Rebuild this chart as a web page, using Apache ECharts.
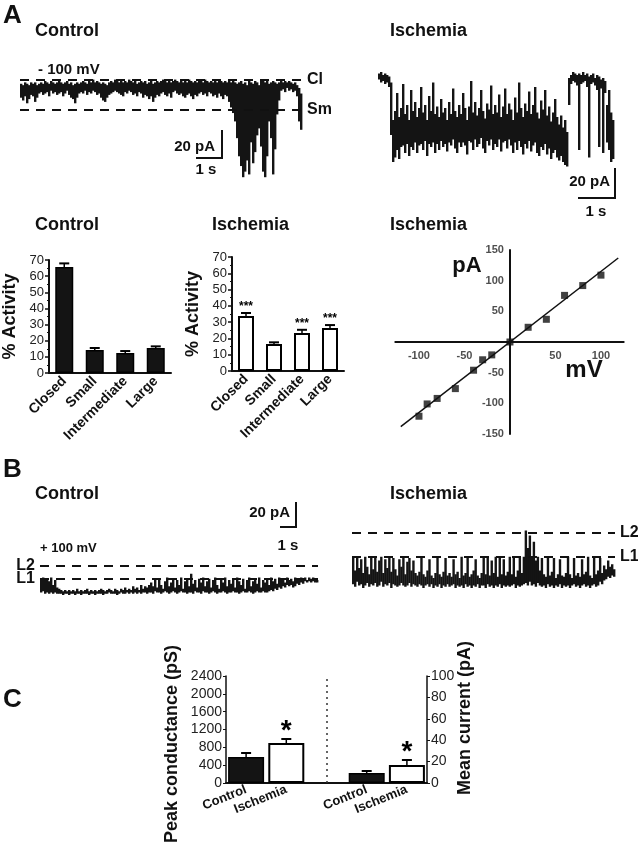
<!DOCTYPE html>
<html>
<head>
<meta charset="utf-8">
<script src="https://cdn.jsdelivr.net/npm/echarts@6/dist/echarts.min.js"></script>
<style>
  html, body { margin: 0; padding: 0; background: #fff; }
  #chart { width: 638px; height: 853px; }
</style>
</head>
<body>
<div id="chart"></div>
<script>
// ---- single channel traces as [top, bottom] of the noise per time bin (pA, 0 = closed) ----
var traceCtrlA = [
  [-3,-13],[-4,-15],[-2,-12],[-3,-17],[-4,-14],[-2,-11],[-3,-12],[-2,-16],[-4,-13],[-3,-10],
  [-2,-9],[-3,-11],[-1,-10],[-2,-9],[-3,-12],[-1,-8],[-2,-10],[-3,-9],[-2,-11],[-1,-10],
  [-2,-9],[-3,-12],[-2,-10],[-1,-8],[-3,-11],[-2,-13],[-4,-14],[-3,-17],[-2,-13],[-3,-10],
  [-2,-9],[-1,-10],[-2,-8],[-3,-11],[-1,-9],[-2,-10],[0,-8],[-2,-9],[-1,-11],[-2,-10],
  [-3,-13],[-2,-15],[-3,-16],[-4,-13],[-2,-11],[-1,-10],[-2,-9],[0,-8],[-1,-9],[-2,-10],
  [-1,-11],[-2,-12],[-1,-9],[-2,-10],[0,-8],[-1,-9],[-2,-11],[-1,-10],[-3,-12],[-2,-9],
  [-1,-10],[-2,-13],[-1,-11],[-3,-12],[-2,-14],[-1,-12],[-3,-16],[-2,-13],[-1,-11],[-2,-12],
  [-1,-10],[0,-9],[-1,-11],[-2,-12],[-1,-10],[-2,-13],[-1,-9],[0,-8],[-1,-10],[-2,-11],
  [-1,-10],[-2,-12],[-1,-13],[-2,-11],[0,-10],[-1,-12],[-2,-14],[-1,-11],[-2,-12],[-1,-10],
  [-1,-9],[-2,-11],[0,-10],[-1,-12],[-2,-9],[-1,-10],[-2,-12],[-1,-11],[-2,-13],[-1,-10],
  [-1,-12],[-2,-14],[-1,-11],[-2,-12],[-1,-16],[-2,-20],[-1,-24],[-2,-30],[-3,-42],[-2,-55],
  [-1,-62],[-3,-70],[-2,-66],[-4,-58],[-1,-68],[-2,-45],[-3,-60],[-1,-52],[-2,-40],[-4,-35],
  [-1,-48],[0,-66],[-2,-70],[-1,-55],[-3,-30],[-2,-42],[-1,-68],[-2,-50],[-3,-25],[-2,-15],
  [-1,-8],[-2,-7],[-1,-9],[-2,-6],[-1,-8],[-2,-7],[-3,-9],[-2,-8],[-4,-12],[-6,-30],[-10,-36]
];
var traceIschA = [
  [1,-3],[2,-5],[0,-4],[1,-6],[0,-5],[-1,-8],
  [-5,-40],[-30,-58],
  [-24,-55],[-12,-50],[-28,-56],[-22,-48],[-6,-47],[-26,-52],[-20,-46],[-30,-54],[-10,-48],[-24,-50],
  [-18,-45],[-28,-52],[-22,-47],[-8,-46],[-25,-50],[-20,-44],[-30,-54],[-14,-46],[-24,-48],[-5,-45],
  [-26,-52],[-21,-46],[-28,-50],[-16,-44],[-25,-48],[-22,-46],[-30,-51],[-18,-45],[-26,-47],[-9,-43],
  [-24,-49],[-28,-52],[-20,-45],[-26,-48],[-12,-45],[-22,-47],[-30,-53],[-21,-44],[-4,-45],[-25,-50],
  [-18,-43],[-27,-48],[-22,-46],[-10,-42],[-24,-49],[-29,-52],[-19,-44],[-23,-47],[-7,-43],[-26,-50],
  [-20,-46],[-25,-48],[-13,-43],[-28,-51],[-21,-45],[-9,-44],[-26,-49],[-19,-43],[-23,-47],[-30,-52],
  [-15,-45],[-25,-50],[-5,-44],[-22,-48],[-28,-53],[-19,-46],[-24,-49],[-11,-44],[-26,-51],[-20,-47],
  [-8,-45],[-25,-52],[-29,-54],[-17,-48],[-23,-50],[-10,-46],[-27,-53],[-21,-49],[-31,-56],[-25,-52],
  [-16,-50],[-28,-55],[-33,-57],[-27,-54],[-35,-58],[-30,-60],[-38,-61],
  [-2,-20],[0,-6],[2,-4],[1,-5],[0,-7],[1,-50],[0,-6],[2,-5],[0,-4],[1,-8],[-1,-55],[0,-6],
  [1,-5],[-2,-7],[0,-10],[-1,-48],[-3,-9],[-2,-52],[-4,-12],[-20,-45],[-10,-50],[-25,-58],[-30,-56]
];
var traceCtrlB = [
  [11,0],[12,1],[10,-1],[11,0],[9,-1],[12,0],[6,-1],[10,0],[4,-1],[3,-1],
  [2,-1],[1,-2],[2,-1],[1,-1],[2,-2],[1,-1],[2,-1],[1,-2],[3,-1],[1,-1],
  [2,-2],[1,-1],[2,-1],[3,-1],[1,-2],[2,-1],[1,-1],[2,-2],[1,-1],[2,-1],
  [3,-1],[2,-2],[1,-1],[2,-1],[3,0],[2,-1],[1,-1],[3,-1],[2,-2],[1,-1],
  [3,0],[2,-1],[4,-1],[2,0],[3,-1],[2,0],[5,-1],[3,0],[4,-1],[2,0],
  [6,-1],[3,0],[5,0],[4,-1],[6,0],
  [8,0],[5,-1],[10,1],[4,0],[11,0],[6,-1],[3,0],[9,1],[12,0],[5,-1],
  [8,0],[11,1],[4,0],[10,-1],[6,0],[12,1],[3,0],[9,0],[11,-1],[5,0],
  [15,0],[7,-1],[10,1],[4,0],[11,0],[8,-1],[12,1],[5,0],[9,0],[11,-1],
  [4,0],[10,1],[12,0],[6,-1],[3,0],[11,0],[8,1],[12,0],[5,-1],[10,0],
  [7,0],[11,1],[4,0],[12,0],[9,-1],[6,0],[11,1],[3,0],[10,0],[12,1],
  [5,0],[9,-1],[11,0],[7,1],[12,0],[4,0],[10,1],[8,0],[11,0],[6,1],
  [12,2],[9,1],[11,3],[7,2],[12,4],[10,3],[11,5],[8,4],[12,6],[10,5],
  [11,6],[9,4],[12,5],[11,7],[10,6],[12,8],[11,7],[12,9],[10,8],[12,9],
  [11,8],[12,9],[11,8],[10,8]
];
var traceIschB = [
  [22,1],[12,-1],[23,3],[14,0],[21,1],[10,-2],[23,0],[15,2],[9,-1],[22,1],[13,0],[23,2],[11,-1],[20,0],[23,3],[10,-1],
  [21,1],[14,0],[23,2],[11,-2],[22,1],[13,0],[8,-1],[21,0],[15,2],[23,0],[9,-1],[19,0],[22,2],[12,-1],[20,1],[10,0],
  [8,-1],[11,1],[22,0],[9,-2],[7,0],[12,1],[21,-1],[8,1],[6,-2],[10,0],[23,-1],[9,1],[7,-2],[11,0],[22,-1],[8,1],[10,-1],
  [7,0],[21,1],[9,-2],[11,0],[6,-1],[23,0],[8,-2],[10,1],[22,-1],[7,0],[9,-2],[12,0],[21,-1],[8,1],[6,-2],[10,0],
  [22,0],[9,-2],[23,1],[8,-1],[20,0],[10,-2],[23,0],[7,-1],[22,1],[9,-2],[21,0],[8,-1],[11,0],[23,-1],[9,0],[22,1],
  [7,-2],[12,0],[23,-1],[10,0],
  [23,1],[44,2],[30,0],[40,3],[22,0],[35,1],[20,-1],[23,2],[12,0],[22,-1],
  [9,0],[7,-2],[23,1],[8,-1],[11,0],[22,-2],[6,0],[9,-1],[21,1],[8,-2],[7,0],[10,-1],[23,0],[9,-2],[6,0],[22,1],[8,-1],[10,0],
  [7,-2],[21,0],[9,1],[11,-1],[23,0],[8,-2],[6,0],[22,1],[9,-1],[12,0],[22,3],[10,1],[16,4],[13,5],[20,7],[15,6],[17,8],[13,7]
];
var levelsCtrlA = { Cl: 0, Sm: -21.4 };
var levelsCtrlB = { L2: 21.6, L1: 11.2 };
var levelsIschB = { L2: 42.4, L1: 23.2 };

// ---- % activity bars ----
var activityCats = ['Closed', 'Small', 'Intermediate', 'Large'];
var activityCtrl = [65.7, 14.2, 12.4, 15.5];
var activityCtrlErr = [2.2, 1.3, 1.2, 1.0];
var activityIsch = [33.8, 16.6, 23.3, 26.4];
var activityIschErr = [1.8, 1.0, 2.0, 1.8];
var activityIschSig = ['***', '', '***', '***'];

// ---- I-V relation (ischemia) ----
var ivVoltage = [-100, -91, -80, -60, -40, -30, -20, 0, 20, 40, 60, 80, 100];
var ivCurrent = [-121, -101, -92, -76, -46, -29, -21, 0, 24, 37, 76, 92, 109];
var ivFitVoltage = [-120, 119];
var ivFitCurrent = [-138, 137];
var ivVoltageTicks = [-100, -50, 50, 100];
var ivCurrentTicks = [150, 100, 50, -50, -100, -150];

// ---- panel C ----
var groupCats = ['Control', 'Ischemia'];
var peakConductance = [583, 897];
var peakConductanceErr = [90, 90];
var meanCurrent = [9.3, 16.8];
var meanCurrentErr = [1.9, 4.7];
var groupSig = ['', '*'];

var FONT = '"Liberation Sans", Arial, sans-serif';
var INK = '#111';

function idx(arr) { return arr.map(function (v, i) { return i; }); }

// noisy trace: one filled column per time bin, from top to bottom of the noise
function envRender(params, api) {
  var i = api.value(0);
  var top = api.coord([i, api.value(1)]);
  var bot = api.coord([i, api.value(2)]);
  var w = api.size([1, 0])[0];
  return {
    type: 'rect',
    shape: { x: top[0] - w / 2, y: top[1], width: w + 0.4, height: Math.max(bot[1] - top[1], 1.2) },
    style: { fill: '#141414' }
  };
}

function traceSeries(data, gi, levels, labelPos) {
  var s = {
    type: 'custom', xAxisIndex: gi, yAxisIndex: gi, renderItem: envRender,
    data: data.map(function (p, i) { return [i, p[0], p[1]]; }),
    encode: { x: 0, y: [1, 2] }
  };
  if (levels) {
    s.markLine = {
      silent: true, symbol: 'none', animation: false,
      lineStyle: { color: INK, width: 2, type: [9, 7] },
      label: { show: true, position: labelPos, formatter: '{b}', color: INK, fontSize: 16, fontWeight: 'bold', fontFamily: FONT, distance: 5 },
      data: Object.keys(levels).map(function (k) { return { name: k, yAxis: levels[k] }; })
    };
  }
  return s;
}

function errRender(sig, starSize, starDy) {
  return function (params, api) {
    var x = api.value(0), lo = api.value(1), hi = api.value(2);
    var p0 = api.coord([x, lo]), p1 = api.coord([x, hi]);
    var kids = [
      { type: 'line', shape: { x1: p0[0], y1: p0[1], x2: p1[0], y2: p1[1] }, style: { stroke: '#000', lineWidth: 1.5 } },
      { type: 'line', shape: { x1: p1[0] - 5, y1: p1[1], x2: p1[0] + 5, y2: p1[1] }, style: { stroke: '#000', lineWidth: 2 } }
    ];
    var s = sig ? sig[params.dataIndex] : '';
    if (s) {
      kids.push({ type: 'text', style: { text: s, x: p1[0], y: p1[1] - starDy, align: 'center', verticalAlign: 'middle',
        font: 'bold ' + starSize + 'px ' + FONT, fill: '#000' } });
    }
    return { type: 'group', children: kids };
  };
}

function errData(vals, errs, offset) {
  return vals.map(function (v, i) { return [i + (offset || 0), v, v + errs[i]]; });
}

function txt(s, x, y, size, align, rot, weight) {
  return {
    type: 'text', x: x, y: y, rotation: rot || 0, silent: true,
    style: { text: s, x: 0, y: 0, fill: INK, font: (weight || 'bold') + ' ' + size + 'px ' + FONT,
      align: align || 'left', verticalAlign: 'middle', textAlign: align || 'left', textVerticalAlign: 'middle' }
  };
}
function bar(points) {
  return { type: 'polyline', silent: true, shape: { points: points }, style: { stroke: INK, lineWidth: 2, fill: null } };
}

var barY = function (gi) {
  return {
    gridIndex: gi, type: 'value', min: 0, max: 70, interval: 10,
    name: '% Activity', nameLocation: 'middle', nameGap: 30,
    nameTextStyle: { fontSize: 18, fontWeight: 'bold', color: INK, fontFamily: FONT },
    axisLine: { show: true, lineStyle: { color: INK, width: 2 } },
    axisTick: { show: true, length: 4, lineStyle: { color: INK, width: 1.5 } },
    minorTick: { show: true, splitNumber: 2, length: 2, lineStyle: { color: INK } },
    splitLine: { show: false },
    axisLabel: { fontSize: 13, color: '#222', margin: 5 }
  };
};
var barX = function (gi) {
  return {
    gridIndex: gi, type: 'category', data: activityCats,
    axisLine: { lineStyle: { color: INK, width: 2 } }, axisTick: { show: false },
    axisLabel: { rotate: 45, fontSize: 14, fontWeight: 'bold', color: INK, margin: 6, interval: 0 }
  };
};
var traceX = function (gi, data) {
  return { gridIndex: gi, type: 'category', data: idx(data), boundaryGap: true, show: false };
};
var plain = function (v) { return String(v); };

var chart = echarts.init(document.getElementById('chart'), null, { renderer: 'canvas' });

var cCats = [groupCats[0], groupCats[1], '', groupCats[0], groupCats[1]];
var tickLabel = { show: true, color: '#222', fontSize: 11, fontWeight: 'bold', fontFamily: FONT };

var option = {
  animation: false,
  backgroundColor: '#fff',
  textStyle: { fontFamily: FONT },
  grid: [
    { left: 20, top: 74, width: 282, height: 106 },          // 0 trace A control
    { left: 378, top: 72, width: 236, height: 96 },          // 1 trace A ischemia
    { left: 45, top: 260, width: 126, height: 113 },         // 2 bars control
    { left: 232, top: 257, width: 112, height: 114 },        // 3 bars ischemia
    { left: 395.3, top: 250, width: 228.4, height: 184 },    // 4 I-V
    { left: 40, top: 560, width: 278, height: 40 },          // 5 trace B control
    { left: 352, top: 528, width: 263, height: 65 },         // 6 trace B ischemia
    { left: 226, top: 676, width: 201, height: 107 }         // 7 panel C
  ],
  xAxis: [
    traceX(0, traceCtrlA),
    traceX(1, traceIschA),
    barX(2),
    barX(3),
    {
      gridIndex: 4, type: 'value', min: -126, max: 125,
      axisLine: { onZero: true, lineStyle: { color: INK, width: 2 } },
      axisTick: { show: false }, axisLabel: { show: false }, splitLine: { show: false }
    },
    traceX(5, traceCtrlB),
    traceX(6, traceIschB),
    {
      gridIndex: 7, type: 'category', data: cCats,
      axisLine: { lineStyle: { color: INK, width: 2 } }, axisTick: { show: false },
      axisLabel: { rotate: 22, fontSize: 13, fontWeight: 'bold', color: INK, margin: 6, interval: 0 }
    }
  ],
  yAxis: [
    { gridIndex: 0, type: 'value', min: -72, max: 4, show: false },
    { gridIndex: 1, type: 'value', min: -62, max: 2, show: false },
    barY(2),
    barY(3),
    {
      gridIndex: 4, type: 'value', min: -150, max: 150, interval: 50,
      axisLine: { onZero: true, lineStyle: { color: INK, width: 2 } },
      axisTick: { show: false }, axisLabel: { show: false }, splitLine: { show: false }
    },
    { gridIndex: 5, type: 'value', min: -6, max: 26, show: false },
    { gridIndex: 6, type: 'value', min: -6, max: 46, show: false },
    {
      gridIndex: 7, type: 'value', min: 0, max: 2400, interval: 400, position: 'left',
      axisLine: { show: true, lineStyle: { color: INK, width: 1.5 } },
      axisTick: { show: true, length: 3, lineStyle: { color: INK } },
      axisLabel: { fontSize: 14, color: '#222', margin: 4, formatter: plain }, splitLine: { show: false }
    },
    {
      gridIndex: 7, type: 'value', min: 0, max: 100, interval: 20, position: 'right',
      axisLine: { show: true, lineStyle: { color: INK, width: 1.5 } },
      axisTick: { show: true, length: 3, lineStyle: { color: INK } },
      axisLabel: { fontSize: 14, color: '#222', margin: 4, formatter: plain }, splitLine: { show: false }
    }
  ],
  series: [
    traceSeries(traceCtrlA, 0, levelsCtrlA, 'end'),
    traceSeries(traceIschA, 1, null),
    traceSeries(traceCtrlB, 5, levelsCtrlB, 'start'),
    traceSeries(traceIschB, 6, levelsIschB, 'end'),

    { type: 'bar', xAxisIndex: 2, yAxisIndex: 2, data: activityCtrl, barWidth: 18,
      itemStyle: { color: '#141414', borderColor: '#000', borderWidth: 1.5 } },
    { type: 'custom', xAxisIndex: 2, yAxisIndex: 2, renderItem: errRender(null, 12, 4),
      data: errData(activityCtrl, activityCtrlErr), encode: { x: 0, y: [1, 2] }, z: 3 },
    { type: 'bar', xAxisIndex: 3, yAxisIndex: 3, data: activityIsch, barWidth: 16,
      itemStyle: { color: '#fff', borderColor: '#000', borderWidth: 2 } },
    { type: 'custom', xAxisIndex: 3, yAxisIndex: 3, renderItem: errRender(activityIschSig, 12, 6),
      data: errData(activityIsch, activityIschErr), encode: { x: 0, y: [1, 2] }, z: 3 },

    { type: 'line', xAxisIndex: 4, yAxisIndex: 4, symbol: 'none',
      data: ivFitVoltage.map(function (v, i) { return [v, ivFitCurrent[i]]; }),
      lineStyle: { color: INK, width: 1.5 } },
    { type: 'scatter', xAxisIndex: 4, yAxisIndex: 4, symbol: 'rect', symbolSize: 7,
      data: ivVoltage.map(function (v, i) { return [v, ivCurrent[i]]; }),
      itemStyle: { color: INK } },
    // tick labels of the crossing I-V axes, placed on the zero lines
    { type: 'scatter', xAxisIndex: 4, yAxisIndex: 4, symbolSize: 0, silent: true,
      data: ivVoltageTicks.map(function (v) { return [v, 0]; }),
      label: Object.assign({ position: 'bottom', distance: 8, formatter: function (p) { return p.value[0]; } }, tickLabel) },
    { type: 'scatter', xAxisIndex: 4, yAxisIndex: 4, symbolSize: 0, silent: true,
      data: ivCurrentTicks.map(function (v) { return [0, v]; }),
      label: Object.assign({ position: 'left', distance: 6, formatter: function (p) { return p.value[1]; } }, tickLabel) },

    { type: 'bar', xAxisIndex: 7, yAxisIndex: 7, barWidth: 36, barGap: '-100%',
      data: [peakConductance[0], { value: peakConductance[1], itemStyle: { color: '#fff', borderWidth: 2 } }, '-', '-', '-'],
      itemStyle: { color: '#141414', borderColor: '#000', borderWidth: 1.5 },
      markLine: { silent: true, symbol: 'none', label: { show: false },
        lineStyle: { color: '#333', width: 1.5, type: [2, 4] }, data: [{ xAxis: 2 }] } },
    { type: 'bar', xAxisIndex: 7, yAxisIndex: 8, barWidth: 36, barGap: '-100%',
      data: ['-', '-', '-', meanCurrent[0], { value: meanCurrent[1], itemStyle: { color: '#fff', borderWidth: 2 } }],
      itemStyle: { color: '#141414', borderColor: '#000', borderWidth: 1.5 } },
    { type: 'custom', xAxisIndex: 7, yAxisIndex: 7, renderItem: errRender(groupSig, 28, 8),
      data: errData(peakConductance, peakConductanceErr, 0), encode: { x: 0, y: [1, 2] }, z: 3 },
    { type: 'custom', xAxisIndex: 7, yAxisIndex: 8, renderItem: errRender(groupSig, 28, 8),
      data: errData(meanCurrent, meanCurrentErr, 3), encode: { x: 0, y: [1, 2] }, z: 3 }
  ],
  graphic: [
    txt('A', 3, 16, 26),
    txt('Control', 35, 31, 18),
    txt('Ischemia', 390, 31, 18),
    txt('- 100 mV', 38, 70, 15),
    txt('20 pA', 215, 147, 15, 'right'),
    bar([[222, 130], [222, 158], [196, 158]]),
    txt('1 s', 206, 170, 15, 'center'),
    txt('20 pA', 610, 182, 15, 'right'),
    bar([[615, 168], [615, 198], [578, 198]]),
    txt('1 s', 596, 212, 15, 'center'),

    txt('Control', 35, 225, 18),
    txt('Ischemia', 212, 225, 18),
    txt('Ischemia', 390, 225, 18),
    txt('pA', 467, 266, 22, 'center'),
    txt('mV', 584, 370, 24, 'center'),

    txt('B', 3, 470, 26),
    txt('Control', 35, 494, 18),
    txt('Ischemia', 390, 494, 18),
    txt('20 pA', 290, 513, 15, 'right'),
    bar([[296, 502], [296, 527], [280, 527]]),
    txt('1 s', 288, 546, 15, 'center'),
    txt('+ 100 mV', 40, 548, 13),

    txt('C', 3, 700, 26),
    txt('Peak conductance (pS)', 172, 744, 18, 'center', Math.PI / 2),
    txt('Mean current (pA)', 465, 718, 18, 'center', Math.PI / 2)
  ]
};

chart.setOption(option);
</script>
</body>
</html>
